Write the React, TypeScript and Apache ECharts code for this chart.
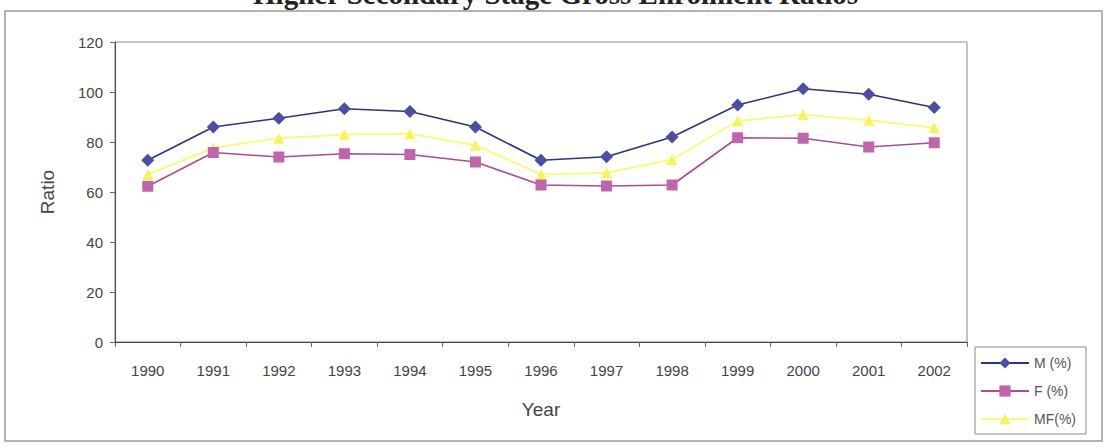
import React, { useEffect, useRef } from "react";
import * as echarts from "echarts";

const years = ["1990","1991","1992","1993","1994","1995","1996","1997","1998","1999","2000","2001","2002"];
const mValues = [72.7, 86, 89.5, 93.3, 92.2, 86, 72.7, 74.1, 82, 94.8, 101.3, 99.1, 93.8];
const fValues = [62.3, 75.8, 74, 75.3, 75, 72, 62.8, 62.4, 62.8, 81.7, 81.5, 78, 79.7];
const mfValues = [67, 77.7, 81.5, 83, 83.3, 78.7, 67, 67.7, 73, 88.4, 91, 88.7, 85.7];
const seriesNames = ["M (%)", "F (%)", "MF(%)"];
const titleText = "Higher Secondary Stage Gross Enrolment Ratios";

export default function App() {
  const ref = useRef<HTMLDivElement>(null);
  useEffect(() => {
    if (!ref.current) return;
    const chart = echarts.init(ref.current, null, { renderer: "svg" });
    const labelFont = { fontFamily: "Liberation Sans", fontSize: 15, color: "#444" };
    chart.setOption({
      animation: false,
      backgroundColor: "#fff",
      graphic: [
        {
          type: "rect",
          shape: { x: 5, y: 11, width: 1097, height: 430 },
          style: { fill: "none", stroke: "#9a9a9a", lineWidth: 1.5 },
          z: -1,
        },
        {
          type: "text",
          x: 858,
          y: 8,
          style: {
            text: titleText,
            font: "bold 29px 'Liberation Serif'",
            fill: "#222",
            textAlign: "right",
            textVerticalAlign: "bottom",
          },
        },
      ],
      grid: {
        left: 115,
        right: 142,
        top: 42,
        bottom: 106,
        show: true,
        borderColor: "#8a8a8a",
        borderWidth: 1,
        backgroundColor: "#fff",
      },
      legend: {
        orient: "vertical",
        left: 975,
        top: 347,
        width: 125,
        padding: [9, 10, 8, 5],
        itemGap: 14,
        itemWidth: 48,
        itemHeight: 14,
        borderColor: "#8a8a8a",
        borderWidth: 1,
        backgroundColor: "#fff",
        textStyle: { fontFamily: "Liberation Sans", fontSize: 14, color: "#555" },
        data: seriesNames,
      },
      xAxis: {
        type: "category",
        data: years,
        boundaryGap: true,
        name: "Year",
        nameLocation: "middle",
        nameGap: 58,
        nameTextStyle: { fontFamily: "Liberation Sans", fontSize: 19, color: "#444" },
        axisLine: { lineStyle: { color: "#444", width: 1.2 } },
        axisTick: { show: true, length: 5, lineStyle: { color: "#666" } },
        axisLabel: { ...labelFont, margin: 21 },
        splitLine: { show: false },
      },
      yAxis: {
        type: "value",
        min: 0,
        max: 120,
        interval: 20,
        name: "Ratio",
        nameLocation: "middle",
        nameGap: 58,
        nameTextStyle: { fontFamily: "Liberation Sans", fontSize: 19, color: "#444" },
        axisLine: { show: true, lineStyle: { color: "#555", width: 1.2 } },
        axisTick: { show: true, length: 5, lineStyle: { color: "#666" } },
        axisLabel: { ...labelFont, margin: 12 },
        splitLine: { show: false },
      },
      series: [
        {
          name: seriesNames[0],
          type: "line",
          data: mValues,
          symbol: "diamond",
          symbolSize: 13,
          lineStyle: { color: "#2e3280", width: 1.6 },
          itemStyle: { color: "#4a4ea6" },
          z: 3,
        },
        {
          name: seriesNames[1],
          type: "line",
          data: fValues,
          symbol: "rect",
          symbolSize: 11,
          lineStyle: { color: "#a64d94", width: 1.6 },
          itemStyle: { color: "#c064ad" },
          z: 2,
        },
        {
          name: seriesNames[2],
          type: "line",
          data: mfValues,
          symbol: "triangle",
          symbolSize: 11,
          lineStyle: { color: "#fbfb7a", width: 2 },
          itemStyle: { color: "#f5f55a" },
          z: 1,
        },
      ],
    });
    return () => chart.dispose();
  }, []);
  return (
    <div
      ref={ref}
      style={{ position: "absolute", left: 0, top: 0, width: 1109, height: 448 }}
    />
  );
}
